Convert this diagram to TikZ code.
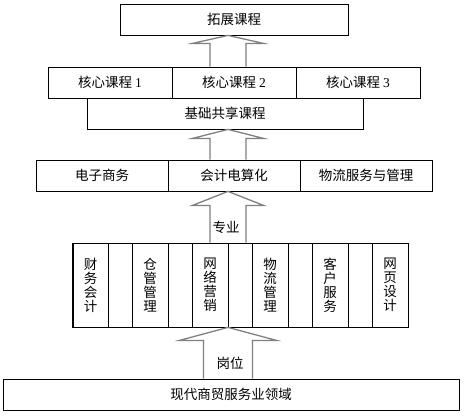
\documentclass[tikz,border=0pt]{standalone}
\usepackage{fontspec}
\setmainfont{Liberation Serif}
\newfontfamily\cjk{Noto Sans CJK SC}
\usetikzlibrary{calc}

\tikzset{
  box/.style={draw, line width=0.8pt, minimum height=31pt, inner sep=0pt,
    font=\fontsize{13.5}{14}\selectfont\cjk},
  col/.style={box, minimum width=36pt, minimum height=84pt, align=center},
  fat/.style={draw=gray, line width=1.3pt},
  tag/.style={font=\fontsize{13.5}{14}\selectfont\cjk},
}

% lower node, upper node, half shaft, half head, head length
\newcommand\fatarrow[5]{%
  \draw[fat] let \p1=(#1.north), \p2=(#2.south) in
    (228pt-#3pt,\y1) -- (228pt-#3pt,\y2-#5pt) -- (228pt-#4pt,\y2-#5pt)
    -- (228pt,\y2) -- (228pt+#4pt,\y2-#5pt) -- (228pt+#3pt,\y2-#5pt)
    -- (228pt+#3pt,\y1);
}

\begin{document}
\begin{tikzpicture}[x=1pt, y=-1pt]
  \useasboundingbox (0,0) rectangle (468,416);

  \node[box, minimum width=228pt] (ext) at (234,19.5) {拓展课程};

  \node[box, minimum width=124pt] (core1) at (110,82.5) {核心课程 {\rmfamily 1}};
  \node[box, minimum width=124pt] (core2) at (234,82.5) {核心课程 {\rmfamily 2}};
  \node[box, minimum width=124pt] (core3) at (358,82.5) {核心课程 {\rmfamily 3}};
  \node[box, minimum width=276pt] (base) at (225,113.5) {基础共享课程};

  \node[box, minimum width=132pt] (ec) at (102,175.5) {电子商务};
  \node[box, minimum width=132pt] (acc) at (234,175.5) {会计电算化};
  \node[box, minimum width=132pt] (log) at (366,175.5) {物流服务与管理};

  \node[box, minimum width=335pt, minimum height=84pt] (jobs) at (240.5,285) {};
  \node[col] (j1) at (90.5,285) {财\\务\\会\\计};
  \node[col] (j2) at (150,285) {仓\\管\\管\\理};
  \node[col] (j3) at (210,285) {网\\络\\营\\销};
  \node[col] (j4) at (270,285) {物\\流\\管\\理};
  \node[col] (j5) at (330,285) {客\\户\\服\\务};
  \node[col] (j6) at (390,285) {网\\页\\设\\计};

  \node[box, minimum width=456pt] (field) at (231,394.5) {现代商贸服务业领域};

  \fatarrow{core2}{ext}{18}{35.5}{8}
  \fatarrow{acc}{base}{18}{35.5}{9}
  \fatarrow{jobs}{acc}{18}{35.5}{14}
  \fatarrow{field}{jobs}{24.5}{48.5}{13}

  \node[tag] (major) at (226,227) {专业};
  \node[tag] (post) at (230,363) {岗位};
\end{tikzpicture}
\end{document}
